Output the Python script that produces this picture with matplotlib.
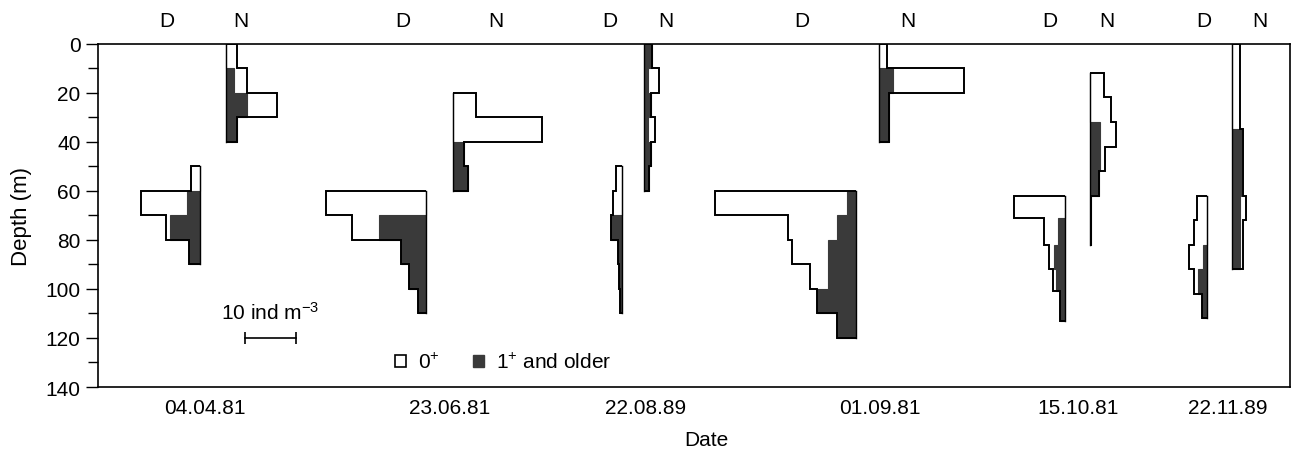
import numpy as np
import matplotlib
matplotlib.use("Agg")
import matplotlib.pyplot as plt
from matplotlib.patches import Patch
from matplotlib.transforms import blended_transform_factory

plt.rcParams['font.family'] = ['Liberation Sans', 'DejaVu Sans']
plt.rcParams['mathtext.fontset'] = 'custom'
plt.rcParams['mathtext.rm'] = 'Liberation Sans'
plt.rcParams['mathtext.default'] = 'regular'

# ---- data: density (ind m^-3) per depth layer, day (D) and night (N) ----
dates = ["04.04.81", "23.06.81", "22.08.89", "01.09.81", "15.10.81", "22.11.89"]

# 04.04.81
d1_edges = [50, 60, 70, 80, 90]
d1_zero = [1.8, 9.0, 0.8, 0.0]
d1_one = [0.0, 2.6, 5.9, 2.2]
n1_edges = [0, 10, 20, 30, 40]
n1_zero = [2.1, 2.6, 5.8, 0.0]
n1_one = [0.0, 1.6, 4.2, 2.2]

# 23.06.81
d2_edges = [60, 70, 80, 90, 100, 110]
d2_zero = [19.7, 5.2, 0.0, 0.0, 0.0]
d2_one = [0.0, 9.3, 4.9, 3.4, 1.6]
n2_edges = [20, 30, 40, 50, 60]
n2_zero = [4.5, 17.4, 0.0, 0.0]
n2_one = [0.0, 0.0, 2.0, 2.9]

# 22.08.89
d3_edges = [50, 60, 70, 80, 90, 100, 110]
d3_zero = [1.1, 1.7, 0.0, 0.0, 0.0, 0.0]
d3_one = [0.0, 0.0, 2.2, 0.8, 0.6, 0.4]
n3_edges = [0, 10, 20, 30, 40, 50, 60]
n3_zero = [0.0, 2.0, 0.0, 1.5, 0.0, 0.0]
n3_one = [1.5, 0.8, 1.3, 0.7, 1.3, 1.0]

# 01.09.81
d4_edges = [60, 70, 80, 90, 100, 110, 120]
d4_zero = [25.8, 9.6, 7.2, 3.6, 0.0, 0.0]
d4_one = [1.8, 3.7, 5.4, 5.4, 7.6, 3.7]
n4_edges = [0, 10, 20, 30, 40]
n4_zero = [1.5, 13.9, 0.0, 0.0]
n4_one = [0.0, 2.7, 1.8, 1.8]

# 15.10.81
d5_edges = [62, 71, 82, 92, 101, 113]
d5_zero = [9.9, 2.8, 1.0, 0.6, 0.0]
d5_one = [0.0, 1.25, 2.1, 1.6, 0.9]
n5_edges = [12, 22, 32, 42, 52, 62, 82]
n5_zero = [2.75, 4.2, 3.2, 1.1, 0.0, 0.0]
n5_one = [0.0, 0.0, 2.0, 2.0, 1.8, 0.3]

# 22.11.89
d6_edges = [62, 72, 82, 92, 102, 112]
d6_zero = [2.0, 2.5, 2.8, 0.8, 0.0]
d6_one = [0.0, 0.0, 0.8, 1.8, 1.0]
n6_edges = [0, 35, 62, 72, 92]
n6_zero = [1.4, 0.4, 1.3, 0.6]
n6_one = [0.0, 1.6, 1.4, 1.4]

day = [(d1_edges, d1_zero, d1_one), (d2_edges, d2_zero, d2_one),
       (d3_edges, d3_zero, d3_one), (d4_edges, d4_zero, d4_one),
       (d5_edges, d5_zero, d5_one), (d6_edges, d6_zero, d6_one)]
night = [(n1_edges, n1_zero, n1_one), (n2_edges, n2_zero, n2_one),
         (n3_edges, n3_zero, n3_one), (n4_edges, n4_zero, n4_one),
         (n5_edges, n5_zero, n5_one), (n6_edges, n6_zero, n6_one)]

# ---- layout (x in ind m^-3 units from the left spine) ----
day_base = [20.0, 64.4, 102.7, 148.6, 189.5, 217.4]
night_base = [25.1, 69.7, 107.1, 153.2, 194.4, 222.4]
day_lab = [13.5, 59.8, 100.4, 138.0, 186.7, 216.7]
night_lab = [28.0, 78.0, 111.4, 158.8, 197.8, 227.8]
date_x = [21.0, 69.0, 107.3, 153.3, 192.2, 221.4]

DARK = '#3a3a3a'
FS = 15

fig = plt.figure(figsize=(12.99, 4.56), dpi=100)
ax = fig.add_axes([0.0754, 0.1491, 0.9177, 0.7533])


def profile(base, sign, edges, zero, one):
    edges = np.array(edges, float)
    one = np.array(one, float)
    total = one + np.array(zero, float)
    ax.stairs(base + sign * one, edges, baseline=base, orientation='horizontal',
              fill=True, facecolor=DARK, edgecolor=DARK, linewidth=0.8)
    ax.stairs(base + sign * total, edges, baseline=base, orientation='horizontal',
              color='black', linewidth=1.4)
    ax.plot([base, base], [edges[0], edges[-1]], color='black', lw=1.0)


for b, (e, z, o) in zip(day_base, day):
    profile(b, -1, e, z, o)
for b, (e, z, o) in zip(night_base, night):
    profile(b, 1, e, z, o)

ax.set_xlim(0, 233.7)
ax.set_ylim(140, 0)
ax.set_yticks(np.arange(0, 141, 20))
ax.set_yticks(np.arange(10, 140, 20), minor=True)
ax.tick_params(axis='y', which='major', length=8.5, width=1.0, pad=4, labelsize=FS)
ax.tick_params(axis='y', which='minor', length=7, width=1.0)
ax.set_xticks(date_x, dates)
ax.tick_params(axis='x', length=0, pad=8, labelsize=FS)
for s in ax.spines.values():
    s.set_linewidth(1.2)

ax.set_ylabel('Depth (m)', fontsize=16)
ax.yaxis.set_label_coords(-0.055, 0.5)
ax.set_xlabel('Date', fontsize=FS)
ax.xaxis.set_label_coords(0.51, -0.125)

tr = blended_transform_factory(ax.transData, ax.transAxes)
for x in day_lab:
    ax.text(x, 1.066, 'D', transform=tr, ha='center', va='center', fontsize=FS)
for x in night_lab:
    ax.text(x, 1.066, 'N', transform=tr, ha='center', va='center', fontsize=FS)

# scale bar 10 ind m^-3
ax.plot([28.8, 38.8], [120, 120], color='black', lw=1.2, marker='|', ms=8, mew=1.2)
ax.text(33.7, 109.5, '10 ind m$^{-3}$', ha='center', va='center', fontsize=FS)

handles = [Patch(facecolor='white', edgecolor='black', lw=1.2),
           Patch(facecolor=DARK, edgecolor=DARK)]
ax.legend(handles, ['0$^{+}$', '1$^{+}$ and older'], ncol=2, frameon=False,
          loc='center', bbox_to_anchor=(0.34, 0.073), fontsize=FS,
          handlelength=0.5, handleheight=0.5, handletextpad=0.6, columnspacing=1.6)

fig.savefig('out.png', dpi=100)
